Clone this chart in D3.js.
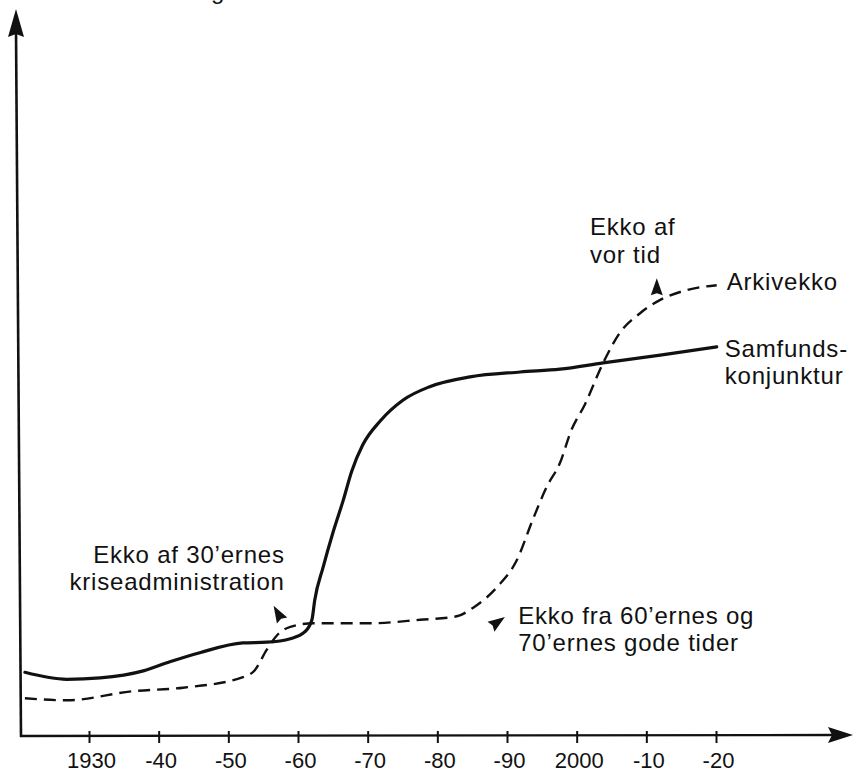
<!DOCTYPE html>
<html>
<head>
<meta charset="utf-8">
<title>Arkivekko og samfundskonjunktur</title>
<script src="https://cdn.jsdelivr.net/npm/d3@7"></script>
<style>
body { margin: 0; background: #fff; }
svg text { font-family: "Liberation Sans", Arial, Helvetica, sans-serif; fill: #111; }
.lbl { font-size: 24px; letter-spacing: 0.8px; }
</style>
</head>
<body>
<svg id="chart" width="855" height="774"></svg>
<script>
// time axis
var tickYears = [1930, 1940, 1950, 1960, 1970, 1980, 1990, 2000, 2010, 2020];
var tickLabels = ["1930", "-40", "-50", "-60", "-70", "-80", "-90", "2000", "-10", "-20"];

// Samfundskonjunktur (solid line), level
var samfundYears  = [1920.8, 1926.8, 1931.6, 1937.8, 1941.6, 1945.9, 1952.1, 1955.5, 1958.9, 1961.0, 1962.0, 1962.4,
                     1963.6, 1965.0, 1966.5, 1967.7, 1969.3, 1971.8, 1975.1, 1978.9, 1984.7, 1991.9, 1997.6, 2003.8, 2012.0, 2020.1];
var samfundValues = [9.1, 8.1, 8.3, 9.3, 10.6, 11.9, 13.3, 13.4, 13.9, 14.9, 16.6, 19.4,
                     24.1, 29.0, 33.7, 37.8, 41.6, 45.0, 48.0, 49.9, 51.3, 52.0, 52.4, 53.3, 54.4, 55.6];

// Arkivekko (dashed line)
var arkivYears  = [1920.8, 1926.8, 1936.3, 1943.5, 1952.1, 1953.8, 1955.5, 1957.0, 1958.9, 1962.2, 1970.3, 1977.5,
                   1982.8, 1985.1, 1988.6, 1991.4, 1993.7, 1995.7, 1997.6, 1999.2, 2001.2, 2003.8, 2006.2, 2009.1, 2012.0, 2015.8, 2020.1];
var arkivValues = [5.4, 5.1, 6.4, 6.9, 8.4, 9.4, 12.3, 14.4, 15.6, 16.1, 16.1, 16.6,
                   17.1, 18.3, 21.3, 25.1, 30.9, 35.6, 39.0, 43.6, 47.4, 53.3, 57.6, 60.4, 62.3, 63.7, 64.4];

// annotations: text lines, position (year, level), text anchor, line step
var noteLines   = [["Ekko af 30’ernes", "kriseadministration"], ["Ekko fra 60’ernes og", "70’ernes gode tider"], ["Ekko af", "vor tid"]];
var noteYears   = [1958.1, 1991.6, 2001.9];
var noteValues  = [24.7, 16.0, 71.6];
var noteAnchors = ["end", "start", "start"];
var noteSteps   = [27, 27, 28];
// small pointer arrowheads: tip (year, level) and angle
var pointerYears  = [1956.5, 1989.7, 2011.5];
var pointerValues = [18.6, 17.0, 65.4];
var pointerAngles = [-30, 55, 0];

var svg = d3.select("#chart");

var x = d3.scaleLinear().domain([1930, 2020]).range([89, 716]);
var y = d3.scaleLinear().domain([0, 100]).range([736, 36]);

// axes
svg.append("line")
   .attr("x1", 21).attr("y1", 737).attr("x2", 16).attr("y2", 30)
   .attr("stroke", "#111").attr("stroke-width", 2.6);
svg.append("path")
   .attr("d", "M16,9 L24,37 L16,34 L8,37 Z").attr("fill", "#111");

svg.append("line")
   .attr("x1", 20).attr("y1", 736).attr("x2", 835).attr("y2", 735)
   .attr("stroke", "#111").attr("stroke-width", 2.3);
svg.append("path")
   .attr("d", "M853,735 L828,727 L832,735 L828,743 Z").attr("fill", "#111");

var xAxis = d3.axisBottom(x)
    .tickValues(tickYears)
    .tickFormat(function(d, i) { return tickLabels[i]; })
    .tickSize(7);

var gx = svg.append("g").attr("transform", "translate(0,736)").call(xAxis);
gx.select(".domain").remove();
gx.selectAll(".tick line").attr("y1", -5).attr("stroke", "#111").attr("stroke-width", 2);
gx.selectAll(".tick text")
  .attr("y", 32).attr("dy", 0).attr("dx", 2)
  .style("font-size", "22px").style("font-family", "'Liberation Sans', Arial, sans-serif")
  .attr("fill", "#111");

// lines
var line = d3.line()
    .x(function(d) { return x(d[0]); })
    .y(function(d) { return y(d[1]); })
    .curve(d3.curveMonotoneX);

var arkiv = arkivYears.map(function(yr, i) { return [yr, arkivValues[i]]; });
var samfund = samfundYears.map(function(yr, i) { return [yr, samfundValues[i]]; });

svg.append("path")
   .datum(arkiv)
   .attr("d", line)
   .attr("fill", "none").attr("stroke", "#111")
   .attr("stroke-width", 2.4).attr("stroke-dasharray", "12,7");

svg.append("path")
   .datum(samfund)
   .attr("d", line)
   .attr("fill", "none").attr("stroke", "#111")
   .attr("stroke-width", 3.2).attr("stroke-linecap", "round");

// series labels at the line ends
var lastA = arkiv[arkiv.length - 1];
svg.append("text").attr("class", "lbl")
   .attr("x", x(lastA[0]) + 10).attr("y", y(lastA[1]) + 5)
   .text("Arkivekko");

var lastS = samfund[samfund.length - 1];
var st = svg.append("text").attr("class", "lbl")
   .attr("x", x(lastS[0]) + 8).attr("y", y(lastS[1]) + 10);
st.append("tspan").text("Samfunds-");
st.append("tspan").attr("x", x(lastS[0]) + 8).attr("dy", 27).text("konjunktur");

// annotations
noteLines.forEach(function(lines, i) {
  var tx = x(noteYears[i]);
  var t = svg.append("text").attr("class", "lbl")
     .attr("x", tx).attr("y", y(noteValues[i]))
     .attr("text-anchor", noteAnchors[i]);
  lines.forEach(function(s, j) {
    t.append("tspan").attr("x", tx).attr("dy", j === 0 ? 0 : noteSteps[i]).text(s);
  });
});

pointerYears.forEach(function(yr, i) {
  svg.append("path")
     .attr("d", "M0,0 L6,17 L0,15 L-6,17 Z")
     .attr("transform", "translate(" + x(yr) + "," + y(pointerValues[i]) + ") rotate(" + pointerAngles[i] + ")")
     .attr("fill", "#111");
});

// cut-off heading letter at the very top
svg.append("text").attr("class", "lbl").attr("x", 211).attr("y", -1).text("g");
</script>
</body>
</html>
